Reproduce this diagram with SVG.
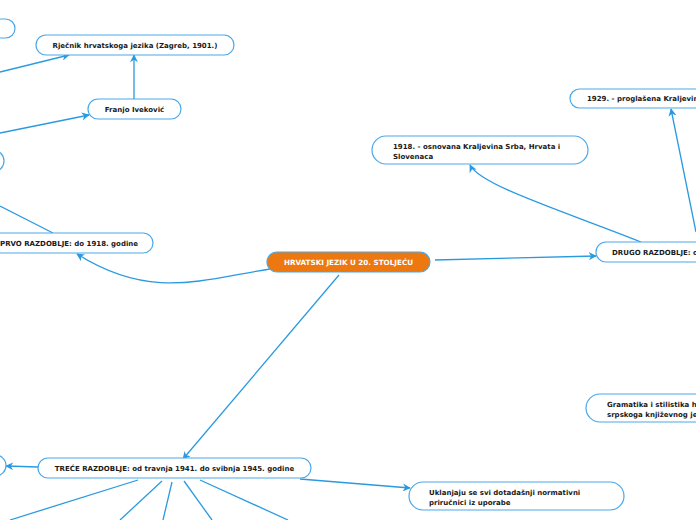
<svg xmlns="http://www.w3.org/2000/svg" width="696" height="520" viewBox="0 0 696 520">
<style>
.n rect{fill:#fff;stroke:#4AA8E8;stroke-width:1.2}
.n text{font-family:"DejaVu Sans",Verdana,sans-serif;font-weight:bold;font-size:7px;fill:#1a1a1a}
.c path{fill:none;stroke:#2A9AE0;stroke-width:1.3}
#center rect{fill:#EC780F;stroke:#4AA8E8}
#center text{fill:#fff;font-size:7.2px}
</style>
<defs>
<marker id="a" viewBox="0 0 10 10" refX="9" refY="5" markerWidth="8" markerHeight="8" markerUnits="userSpaceOnUse" orient="auto">
<path d="M0,0 L10,5 L0,10 L3,5 Z" fill="#2A9AE0"/>
</marker>
</defs>
<rect width="696" height="520" fill="#fff"/>
<g class="c">
<path d="M0,72 L69,55" marker-end="url(#a)"/>
<path d="M134,99 L134,55" marker-end="url(#a)"/>
<path d="M0,133 L89,115" marker-end="url(#a)"/>
<path d="M53,233 L0,206"/>
<path d="M270,269 C200,280 150,300 77,254" marker-end="url(#a)"/>
<path d="M435,260 L596,256" marker-end="url(#a)"/>
<path d="M641,242 C560,210 480,185 470,165" marker-end="url(#a)"/>
<path d="M696,232 L671,109" marker-end="url(#a)"/>
<path d="M339,275 L183,459" marker-end="url(#a)"/>
<path d="M38,467 L6,466" marker-end="url(#a)"/>
<path d="M300,479 L410,488" marker-end="url(#a)"/>
<path d="M138,480 L10,520"/>
<path d="M162,481 L120,520"/>
<path d="M172,482 L163,520"/>
<path d="M184,481 L212,520"/>
<path d="M200,480 L288,520"/>
</g>
<g id="n1" class="n"><rect x="-100" y="19" width="115" height="19" rx="9.5"/></g>
<g id="n2" class="n"><rect x="36" y="35" width="198" height="20" rx="10"/><text x="135" y="47.5" text-anchor="middle">Rječnik hrvatskoga jezika (Zagreb, 1901.)</text></g>
<g id="n3" class="n"><rect x="88" y="99" width="93" height="20" rx="10"/><text x="134.5" y="111.5" text-anchor="middle">Franjo Iveković</text></g>
<g id="n4" class="n"><rect x="-100" y="150" width="104" height="22" rx="11"/></g>
<g id="n5" class="n"><rect x="-60" y="233" width="213" height="20" rx="10"/><text x="0" y="245.5">PRVO RAZDOBLJE: do 1918. godine</text></g>
<g id="center" class="n"><rect x="267" y="252" width="163" height="20" rx="10"/><text x="348.5" y="264.5" text-anchor="middle">HRVATSKI JEZIK U 20. STOLJEĆU</text></g>
<g id="n6" class="n"><rect x="372" y="136" width="216" height="28" rx="14"/><text x="393" y="148.5">1918. - osnovana Kraljevina Srba, Hrvata i</text><text x="393" y="158.5">Slovenaca</text></g>
<g id="n7" class="n"><rect x="570" y="89" width="200" height="19" rx="9.5"/><text x="587" y="101">1929. - proglašena Kraljevina Jugoslavija</text></g>
<g id="n8" class="n"><rect x="596" y="242" width="200" height="20" rx="10"/><text x="612" y="254.5">DRUGO RAZDOBLJE: od 1918. do 1941. godine</text></g>
<g id="n9" class="n"><rect x="586" y="394" width="200" height="28" rx="14"/><text x="607" y="406.5">Gramatika i stilistika hrvatskoga ili</text><text x="607" y="416.5">srpskoga književnog jezika</text></g>
<g id="n10" class="n"><rect x="38" y="458" width="273" height="20" rx="10"/><text x="174.5" y="470.5" text-anchor="middle">TREĆE RAZDOBLJE: od travnja 1941. do svibnja 1945. godine</text></g>
<g id="n11" class="n"><rect x="-100" y="455" width="106" height="21" rx="10.5"/></g>
<g id="n12" class="n"><rect x="409" y="482" width="215" height="28" rx="14"/><text x="429" y="494.5">Uklanjaju se svi dotadašnji normativni</text><text x="429" y="504.5">priručnici iz uporabe</text></g>
</svg>
